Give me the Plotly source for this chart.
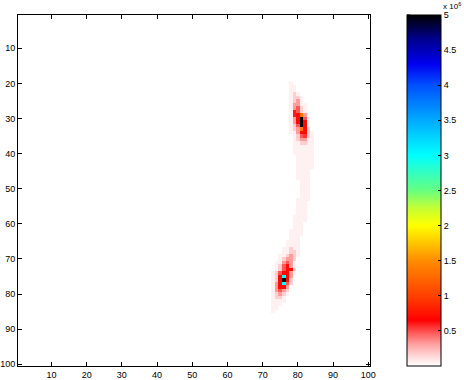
import numpy as np
import plotly.graph_objects as go

# ---- data (values in units of 1e6) ----
n_rows = 100
n_cols = 100
band_rows = list(range(20, 86))
band_start_cols = [78, 78, 78, 78, 78, 78, 78, 78, 78, 78,
                   78, 78, 78, 78, 78, 79, 79, 79, 79, 79,
                   79, 80, 80, 80, 80, 80, 80, 80, 81, 81,
                   81, 81, 81, 80, 80, 80, 80, 80, 79, 79,
                   79, 79, 78, 78, 78, 77, 77, 76, 76, 75,
                   75, 74, 74, 74, 73, 73, 73, 73, 73, 73,
                   73, 73, 73, 73, 73, 73]
band_values = [
    [0.05],
    [0.05, 0.05],
    [0.05, 0.05],
    [0.05, 0.17, 0.05],
    [0.05, 0.17, 0.17, 0.05],
    [0.05, 0.17, 0.32, 0.05],
    [0.05, 0.32, 0.32, 0.05, 0.05],
    [0.05, 0.32, 0.48, 0.17, 0.05],
    [0.05, 0.6, 0.48, 0.17, 0.05],
    [0.05, 0.6, 0.7, 1.35, 0.32],
    [0.05, 0.32, 0.7, 5.0, 0.48, 0.05],
    [0.05, 0.32, 0.7, 5.0, 0.7, 0.05],
    [0.05, 0.17, 0.48, 5.0, 0.7, 0.05],
    [0.05, 0.17, 0.32, 1.35, 0.7, 0.17],
    [0.05, 0.05, 0.32, 0.7, 0.7, 0.17, 0.05],
    [0.05, 0.17, 0.48, 0.55, 0.17, 0.05],
    [0.05, 0.17, 0.32, 0.32, 0.05, 0.05],
    [0.05, 0.05, 0.17, 0.17, 0.05, 0.05],
    [0.05, 0.05, 0.05, 0.05, 0.05, 0.05],
    [0.05, 0.05, 0.05, 0.05, 0.05, 0.05],
    [0.05, 0.05, 0.05, 0.05, 0.05, 0.05],
    [0.05, 0.05, 0.05, 0.05, 0.05],
    [0.05, 0.05, 0.05, 0.05, 0.05],
    [0.05, 0.05, 0.05, 0.05, 0.05],
    [0.05, 0.05, 0.05, 0.05, 0.05],
    [0.05, 0.05, 0.05, 0.05],
    [0.05, 0.05, 0.05, 0.05],
    [0.05, 0.05, 0.05, 0.05],
    [0.05, 0.05, 0.05],
    [0.05, 0.05, 0.05],
    [0.05, 0.05, 0.05],
    [0.05, 0.05, 0.05],
    [0.05, 0.05, 0.05],
    [0.05, 0.05, 0.05, 0.05],
    [0.05, 0.05, 0.05],
    [0.05, 0.05, 0.05],
    [0.05, 0.05, 0.05],
    [0.05, 0.05, 0.05],
    [0.05, 0.05, 0.05, 0.05],
    [0.05, 0.05, 0.05, 0.05],
    [0.05, 0.05, 0.05],
    [0.05, 0.05, 0.05],
    [0.05, 0.05, 0.05, 0.05],
    [0.05, 0.05, 0.05, 0.05],
    [0.05, 0.05, 0.05],
    [0.05, 0.05, 0.05, 0.05],
    [0.05, 0.05, 0.05, 0.05],
    [0.05, 0.05, 0.17, 0.05, 0.05],
    [0.05, 0.05, 0.17, 0.17, 0.05],
    [0.05, 0.05, 0.17, 0.32, 0.17, 0.05],
    [0.05, 0.17, 0.32, 0.32, 0.17],
    [0.05, 0.05, 0.32, 0.48, 0.32, 0.05],
    [0.05, 0.17, 0.48, 0.7, 0.32, 0.05],
    [0.05, 0.17, 0.48, 0.7, 0.7, 0.17],
    [0.05, 0.17, 0.48, 0.7, 0.7, 0.32, 0.05],
    [0.05, 0.17, 0.7, 3.0, 0.7, 0.32],
    [0.05, 0.17, 0.7, 5.0, 0.7, 0.17],
    [0.05, 0.32, 0.7, 3.0, 0.48, 0.17],
    [0.05, 0.32, 0.7, 0.7, 0.32],
    [0.05, 0.32, 0.48, 0.32, 0.17],
    [0.05, 0.17, 0.32, 0.17, 0.05],
    [0.05, 0.17, 0.17, 0.05],
    [0.05, 0.05, 0.05, 0.05],
    [0.05, 0.05, 0.05],
    [0.05, 0.05],
    [0.05],
]
value_scale = 1e6
z_min = 0.0
z_max = 5.0e6
axis_ticks = [10, 20, 30, 40, 50, 60, 70, 80, 90, 100]
cbar_tickvals = [0.5, 1, 1.5, 2, 2.5, 3, 3.5, 4, 4.5, 5]
cbar_ticktext = ["0.5", "1", "1.5", "2", "2.5", "3", "3.5", "4", "4.5", "5"]

# ---- build grid ----
z = np.zeros((n_rows, n_cols))
for r, c0, vals in zip(band_rows, band_start_cols, band_values):
    for k, v in enumerate(vals):
        z[r - 1, c0 - 1 + k] = v * value_scale

colorscale = [
    [0.00, "#ffffff"],
    [0.03, "#ffd4d4"],
    [0.06, "#ffa4a4"],
    [0.09, "#ff6464"],
    [0.11, "#ff3535"],
    [0.13, "#ff0000"],
    [0.20, "#ff4000"],
    [0.30, "#ff8c00"],
    [0.37, "#ffdc00"],
    [0.40, "#ffff00"],
    [0.45, "#c4ff34"],
    [0.50, "#66ff80"],
    [0.60, "#00ffff"],
    [0.70, "#00aaff"],
    [0.80, "#0050ff"],
    [0.86, "#0000f0"],
    [0.93, "#000090"],
    [1.00, "#000000"],
]

FONT = "Liberation Sans, Arial, Helvetica, sans-serif"
PLOT_W = 464 - 18 - 94
CB_X = (407 - 18) / PLOT_W

fig = go.Figure(go.Heatmap(
    z=z,
    x=list(range(1, n_cols + 1)),
    y=list(range(1, n_rows + 1)),
    zmin=z_min, zmax=z_max,
    colorscale=colorscale,
    hoverinfo="skip",
    colorbar=dict(
        x=CB_X, xanchor="left", xref="paper",
        y=0, yanchor="bottom", len=1.0, lenmode="fraction",
        thickness=34, thicknessmode="pixels",
        outlinewidth=1, outlinecolor="black",
        tickvals=[v * value_scale for v in cbar_tickvals],
        ticktext=cbar_ticktext,
        ticks="inside", ticklen=3, tickcolor="black",
        tickfont=dict(family=FONT, size=9, color="black"),
        xpad=0, ypad=0,
    ),
))

axis_common = dict(
    showline=True, linecolor="black", linewidth=1, mirror="ticks",
    ticks="inside", ticklen=4, tickcolor="black",
    tickvals=axis_ticks,
    tickfont=dict(family=FONT, size=9, color="black"),
    showgrid=False, zeroline=False, automargin=False,
)

fig.update_xaxes(range=[0.5, 100.5], **axis_common)
fig.update_yaxes(range=[100.5, 0.5], **axis_common)

# left-side tick marks on the colorbar (MATLAB draws ticks on both sides)
shapes = []
for v in cbar_tickvals:
    yy = v * value_scale / z_max
    shapes.append(dict(type="line", xref="paper", yref="paper",
                       x0=CB_X, x1=CB_X + 3 / PLOT_W, y0=yy, y1=yy,
                       line=dict(color="black", width=1)))

fig.update_layout(
    width=464, height=380,
    margin=dict(l=18, r=94, t=15, b=14, autoexpand=False),
    paper_bgcolor="white", plot_bgcolor="white",
    shapes=shapes,
    annotations=[dict(
        text="x 10<sup>6</sup>", xref="paper", yref="paper",
        x=CB_X + 34 / PLOT_W, y=1.0, xanchor="left", yanchor="bottom",
        yshift=2, showarrow=False,
        font=dict(family=FONT, size=8, color="black"),
    )],
)

fig.write_html("out.html")
